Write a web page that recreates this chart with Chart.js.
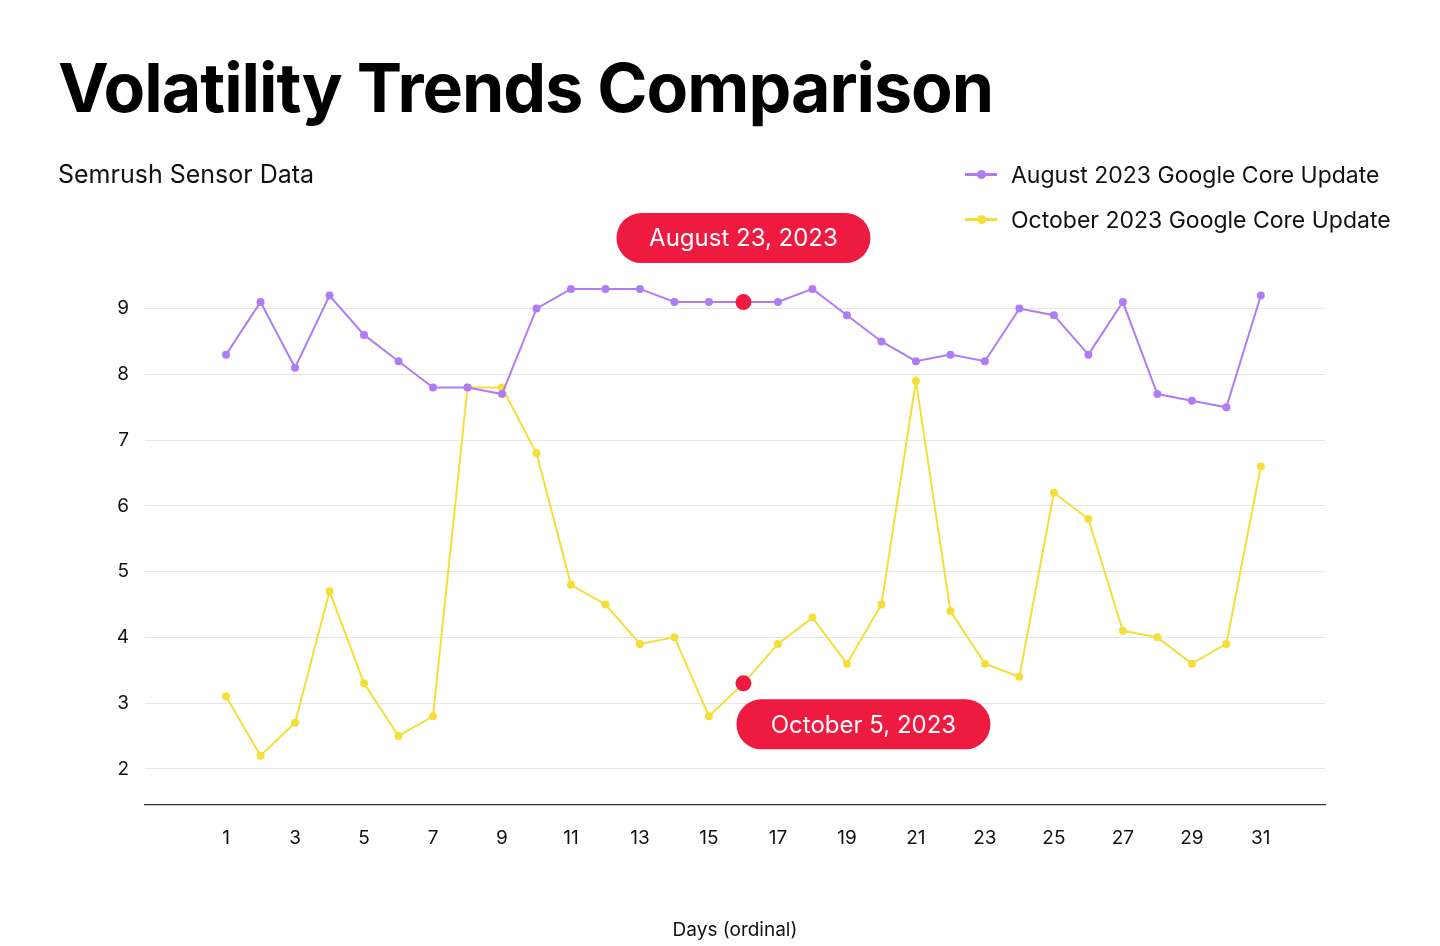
<!DOCTYPE html>
<html><head><meta charset="utf-8">
<script src="https://cdn.jsdelivr.net/npm/chart.js@4"></script>
<style>
body{margin:0;background:#fff;font-family:Inter,"Noto Sans",sans-serif;}
#wrap{position:relative;width:1440px;height:946px;}
canvas{position:absolute;left:0;top:0;}
h1{position:absolute;left:58px;top:46px;margin:0;font-size:68px;font-weight:700;letter-spacing:-1px;color:#000;}
.sub{position:absolute;left:58px;top:159px;font-size:25px;color:#111;}
.leg{position:absolute;left:965px;font-size:23px;color:#111;}
.leg i{display:inline-block;width:32px;height:3px;vertical-align:middle;margin-right:14px;position:relative;top:-2px;}
.leg i:after{content:"";position:absolute;left:12px;top:-3px;width:9px;height:9px;border-radius:50%;background:inherit;}
</style></head><body>
<div id="wrap">
<canvas id="c" width="1440" height="946"></canvas>
<h1>Volatility Trends Comparison</h1>
<div class="sub">Semrush Sensor Data</div>
<div class="leg" style="top:161px"><i style="background:#b07cf5"></i>August 2023 Google Core Update</div>
<div class="leg" style="top:206px"><i style="background:#f6de3a"></i>October 2023 Google Core Update</div>
</div>
<script>
const days = Array.from({length: 31}, (_, i) => i + 1);
const augustValues = [8.3,9.1,8.1,9.2,8.6,8.2,7.8,7.8,7.7,9.0,9.3,9.3,9.3,9.1,9.1,9.1,9.1,9.3,8.9,8.5,8.2,8.3,8.2,9.0,8.9,8.3,9.1,7.7,7.6,7.5,9.2];
const octoberValues = [3.1,2.2,2.7,4.7,3.3,2.5,2.8,7.8,7.8,6.8,4.8,4.5,3.9,4.0,2.8,3.3,3.9,4.3,3.6,4.5,7.9,4.4,3.6,3.4,6.2,5.8,4.1,4.0,3.6,3.9,6.6];
const yTicks = [2,3,4,5,6,7,8,9];
const xTicks = [1,3,5,7,9,11,13,15,17,19,21,23,25,27,29,31];
const highlightDay = 16;
const notes = [
  { dataset: 0, text: "August 23, 2023", dx: 0, dy: -64 },
  { dataset: 1, text: "October 5, 2023", dx: 120, dy: 41 }
];
const RED = "#ef1a3f";

function series(vals, color) {
  return {
    data: days.map((d, i) => ({ x: d, y: vals[i] })),
    borderColor: color,
    backgroundColor: days.map(d => d === highlightDay ? RED : color),
    pointBorderWidth: 0,
    pointRadius: days.map(d => d === highlightDay ? 8 : 4),
    borderWidth: 2,
    tension: 0
  };
}

const notePlugin = {
  id: "notes",
  afterDatasetsDraw(chart) {
    const ctx = chart.ctx;
    notes.forEach(n => {
      const pt = chart.getDatasetMeta(n.dataset).data[highlightDay - 1];
      const cx = pt.x + n.dx, cy = pt.y + n.dy, w = 254, h = 50;
      ctx.save();
      ctx.fillStyle = RED;
      ctx.beginPath();
      ctx.roundRect(cx - w / 2, cy - h / 2, w, h, 25);
      ctx.fill();
      ctx.fillStyle = "#fff";
      ctx.font = "24px Inter, sans-serif";
      ctx.textAlign = "center";
      ctx.textBaseline = "middle";
      ctx.fillText(n.text, cx, cy + 1);
      ctx.restore();
    });
  }
};

new Chart(document.getElementById("c"), {
  type: "line",
  data: { datasets: [series(augustValues, "#b07cf5"), series(octoberValues, "#f6de3a")] },
  plugins: [notePlugin],
  options: {
    responsive: false,
    animation: false,
    layout: { padding: { top: 210, right: 115, left: 0, bottom: 0 } },
    plugins: { legend: { display: false }, tooltip: { enabled: false } },
    scales: {
      x: {
        type: "linear", min: -1.35, max: 32.86,
        afterBuildTicks: s => { s.ticks = xTicks.map(v => ({ value: v })); },
        afterFit: s => { s.height = 141; },
        grid: { display: false, drawTicks: false },
        border: { color: "#333", width: 1.2 },
        ticks: { color: "#111", font: { size: 19, family: "Inter" }, padding: 22, maxRotation: 0 },
        title: { display: true, text: "Days (ordinal)", color: "#111", font: { size: 19, family: "Inter" }, padding: { top: 26 } }
      },
      y: {
        min: 1.45, max: 10.5,
        afterBuildTicks: s => { s.ticks = yTicks.map(v => ({ value: v })); },
        afterFit: s => { s.width = 145; },
        grid: { color: "#e6e6e6", drawTicks: false },
        border: { display: false },
        ticks: { color: "#111", font: { size: 19, family: "Inter" }, padding: 16 }
      }
    }
  }
});
</script>
</body></html>
